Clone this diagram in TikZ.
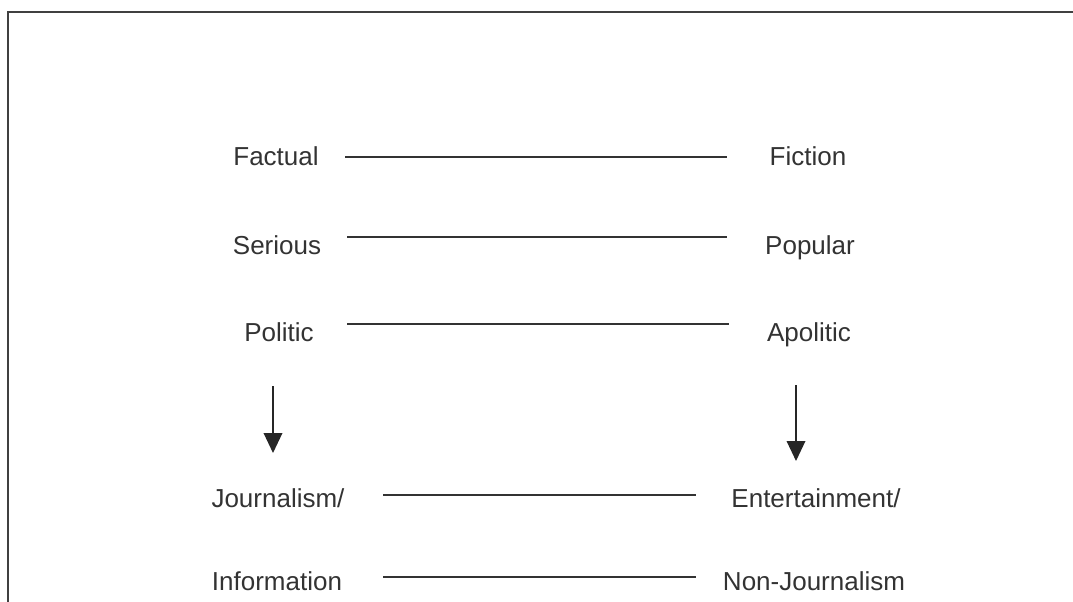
\documentclass[tikz,border=0pt]{standalone}
\usepackage{fontspec}
\setmainfont{Liberation Sans}
\usepackage{tikz}
\usetikzlibrary{arrows.meta}
\usetikzlibrary{positioning}

\begin{document}
\begin{tikzpicture}[x=0.75pt, y=-0.75pt, >={Triangle[length=15pt, width=14pt]},
	word/.style={font=\fontsize{19.5}{23}\selectfont, text=black!80, inner sep=0pt, anchor=base},
	polarline/.style={-, line width=1.1pt, draw=black!80},
	lead/.style={->, line width=1pt, draw=black!85, fill=black!85},
	frame/.style={line width=1.1pt, draw=black!75}]
	\useasboundingbox (0,0) rectangle (1073,602);
	\draw[frame] (1073,12) -- (8,12) -- (8,602);

	\node[word] (factual)   at (276,166)   {Factual};
	\node[word] (fiction)   at (808,166)   {Fiction};
	\node[word] (serious)   at (277,254)   {Serious};
	\node[word] (popular)   at (810,254)   {Popular};
	\node[word] (politic)   at (279,341)   {Politic};
	\node[word] (apolitic)  at (809,341)   {Apolitic};
	\node[word] (journ)     at (278,507)   {Journalism/};
	\node[word] (entert)    at (816,507)   {Entertainment/};
	\node[word] (info)      at (277,590)   {Information};
	\node[word] (nonjourn)  at (814,590)   {Non-Journalism};

	% ends of the lines
	\coordinate (fa) at (345,157);  \coordinate (fi) at (727,157);
	\coordinate (se) at (347,237);  \coordinate (po) at (727,237);
	\coordinate (pl) at (347,324);  \coordinate (ap) at (729,324);
	\coordinate (jo) at (383,495);  \coordinate (en) at (696,495);
	\coordinate (in) at (383,577);  \coordinate (nj) at (696,577);
	% arrows
	\coordinate (pl-a) at (273,386);  \coordinate (jo-a) at (273,453);
	\coordinate (ap-a) at (796,385);  \coordinate (en-a) at (796,461);

	\path[polarline] (fa) edge (fi)
	(se) edge (po)
	(pl) edge (ap)
	(jo) edge (en)
	(in) edge (nj);
	\path (pl-a) edge[lead] (jo-a)
	(ap-a) edge[lead] (en-a);
\end{tikzpicture}
\end{document}
